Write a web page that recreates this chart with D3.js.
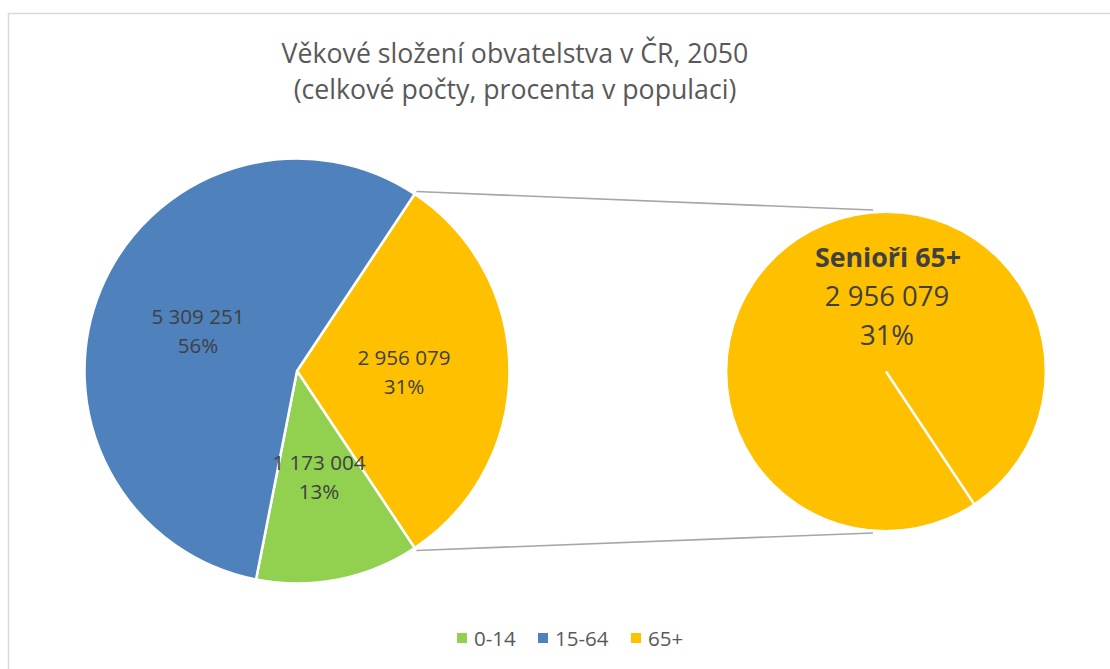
<!DOCTYPE html>
<html>
<head>
<meta charset="UTF-8" />
<title>Věkové složení obvatelstva v ČR, 2050</title>
<script src="https://d3js.org/d3.v7.min.js"></script>
<style type="text/css">
body {
    margin: 0;
    background-color: white;
    font-family: "Open Sans", "Noto Sans", sans-serif;
}
</style>
</head>
<body>
<svg id="chart" width="1110" height="669"></svg>
<script type="text/javascript">
// data
var categories = ['0-14', '15-64', '65+'];
var values = [1173004, 5309251, 2956079];
var percentLabels = ['13%', '56%', '31%'];   // as printed on the chart
var colors = ['#92d050', '#4f81bd', '#ffc000'];
var titleLines = ['Věkové složení obvatelstva v ČR, 2050', '(celkové počty, procenta v populaci)'];
var secondTitle = 'Senioři 65+';

var svg = d3.select('#chart');
var width = +svg.attr('width'), height = +svg.attr('height');

var total = d3.sum(values);
var fmt = function(v) { return d3.format(',')(v).replace(/,/g, ' '); };

// chart border (only top and left are inside the picture)
svg.append('rect')
    .attr('x', 8.5).attr('y', 13.5)
    .attr('width', width).attr('height', height)
    .attr('fill', 'none').attr('stroke', '#d9d9d9').attr('stroke-width', 1.5);

// title
svg.append('g').selectAll('text').data(titleLines).enter()
    .append('text')
    .attr('x', 515).attr('y', function(d, i) { return 63 + i * 36; })
    .attr('text-anchor', 'middle')
    .attr('font-size', 26.7)
    .attr('fill', '#595959')
    .text(function(d) { return d; });

// pie order clockwise from the 65+ slice, which is centred on the right
var order = [2, 0, 1];
var seniorFrac = values[2] / total;
var start = Math.PI / 2 - seniorFrac * Math.PI;
var pie = d3.pie().sort(null).value(function(i) { return values[i]; })
    .startAngle(start).endAngle(start + 2 * Math.PI);
var arcsData = pie(order);

var c1 = [297, 371], r1 = 212.5;
var c2 = [886, 371.5], r2 = 158.5;
var arc1 = d3.arc().innerRadius(0).outerRadius(r1);

// connector lines
var sEnd = arcsData[0].endAngle;
var pt = function(c, r, a) { return [c[0] + r * Math.sin(a), c[1] - r * Math.cos(a)]; };
var a1 = pt(c1, r1 + 3, start), a2 = pt(c1, r1 + 3, sEnd);
var connectors = [
    [a1, [c2[0] - 13, c2[1] - r2 - 3]],
    [a2, [c2[0] - 13, c2[1] + r2 + 3]]
];
svg.append('g').selectAll('line').data(connectors).enter()
    .append('line')
    .attr('x1', function(d) { return d[0][0]; })
    .attr('y1', function(d) { return d[0][1]; })
    .attr('x2', function(d) { return d[1][0]; })
    .attr('y2', function(d) { return d[1][1]; })
    .attr('stroke', '#a6a6a6').attr('stroke-width', 1.6);

// main pie
var g1 = svg.append('g').attr('transform', 'translate(' + c1 + ')');
g1.selectAll('path').data(arcsData).enter()
    .append('path')
    .attr('d', arc1)
    .attr('fill', function(d) { return colors[d.data]; })
    .attr('stroke', 'white').attr('stroke-width', 2.5).attr('stroke-linejoin', 'round');

// labels in main pie
var labelPos = {0: [22, 99], 1: [-99, -47], 2: [107, -6]};
var lab = g1.append('g').selectAll('text').data(arcsData).enter()
    .append('text')
    .attr('text-anchor', 'middle')
    .attr('font-size', 20.6)
    .attr('fill', '#404040')
    .attr('transform', function(d) { return 'translate(' + labelPos[d.data] + ')'; });
lab.append('tspan').attr('x', 0).attr('y', 0).text(function(d) { return fmt(values[d.data]); });
lab.append('tspan').attr('x', 0).attr('y', 29).text(function(d) { return percentLabels[d.data]; });

// second pie (65+ only)
var g2 = svg.append('g').attr('transform', 'translate(' + c2 + ')');
var pie2 = d3.pie().sort(null).value(function(i) { return values[i]; })
    .startAngle(sEnd).endAngle(sEnd + 2 * Math.PI);
var arc2 = d3.arc().innerRadius(0).outerRadius(r2);
g2.selectAll('path').data(pie2([2])).enter()
    .append('path')
    .attr('d', arc2)
    .attr('fill', colors[2]);
var sep = pt([0, 0], r2, sEnd);
g2.append('line')
    .attr('x1', 0).attr('y1', 0).attr('x2', sep[0]).attr('y2', sep[1])
    .attr('stroke', 'white').attr('stroke-width', 2.5);

var lab2 = g2.append('text')
    .attr('text-anchor', 'middle')
    .attr('fill', '#404040')
    .attr('font-size', 27.5);
lab2.append('tspan').attr('x', 2).attr('y', -105).attr('font-size', 26.8).attr('font-weight', 'bold').text(secondTitle);
lab2.append('tspan').attr('x', 1).attr('y', -66).text(fmt(values[2]));
lab2.append('tspan').attr('x', 1).attr('y', -27).text(percentLabels[2]);

// legend
var legendX = [457, 538, 631];
var leg = svg.append('g').selectAll('g').data(categories).enter()
    .append('g')
    .attr('transform', function(d, i) { return 'translate(' + legendX[i] + ',633)'; });
leg.append('rect').attr('width', 10).attr('height', 10)
    .attr('fill', function(d, i) { return colors[i]; });
leg.append('text').attr('x', 17).attr('y', 12.5)
    .attr('font-size', 20.5)
    .attr('fill', '#595959')
    .text(function(d) { return d; });
</script>
</body>
</html>
